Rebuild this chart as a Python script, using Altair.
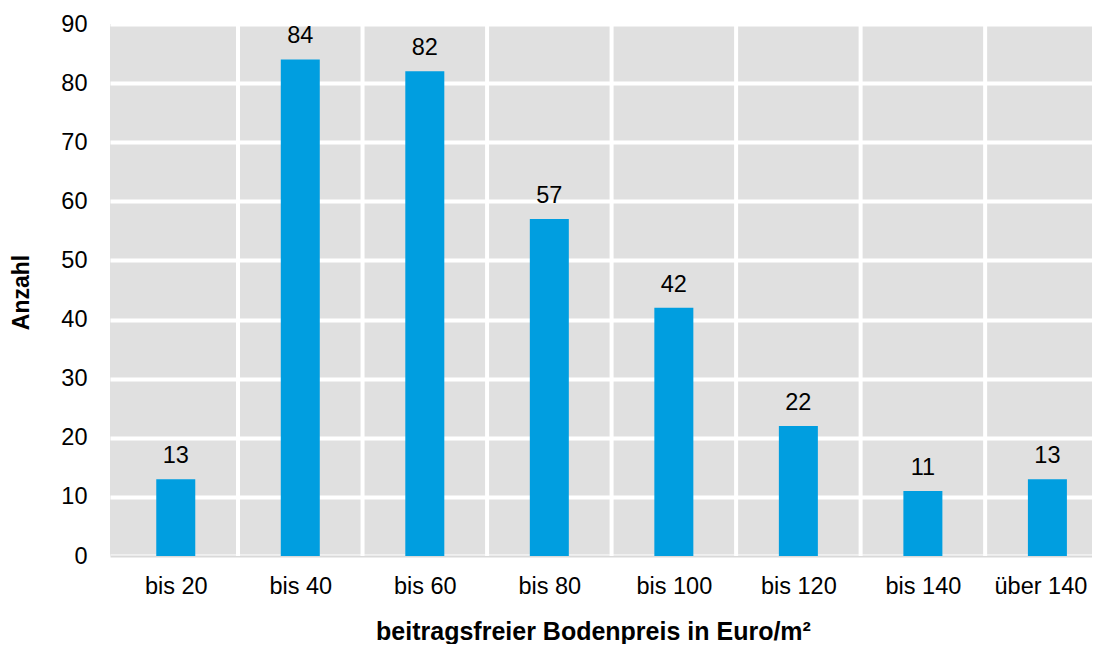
import altair as alt
import pandas as pd

categories = ["bis 20", "bis 40", "bis 60", "bis 80", "bis 100", "bis 120", "bis 140", "über 140"]
counts = [13, 84, 82, 57, 42, 22, 11, 13]
y_ticks = [0, 10, 20, 30, 40, 50, 60, 70, 80, 90]

df = pd.DataFrame({"idx": list(range(len(categories))), "cat": categories, "n": counts})
bounds = pd.DataFrame({"b": [i + 0.5 for i in range(len(categories) - 1)]})

FONT = "Liberation Sans"
label_arr = "[" + ",".join('"%s"' % c for c in categories) + "]"
last = len(categories) - 1

xscale = alt.Scale(domain=[-0.488, 7.318], nice=False, zero=False)
yscale = alt.Scale(domain=[0, 90], nice=False)

x_axis = alt.Axis(
    values=list(range(len(categories))),
    labelExpr=label_arr + "[datum.value]",
    grid=False, ticks=False, tickSize=0,
    domain=True, domainColor="#D9D9D9", domainWidth=2,
    labelFont=FONT, labelFontSize=23.5, labelColor="#000000",
    labelBaseline="alphabetic", labelPadding=37,
    labelOffset={"condition": {"test": "datum.value == %d" % last, "value": -7}, "value": 0},
    labelFlush=False, labelOverlap=False, labelBound=False,
    title="beitragsfreier Bodenpreis in Euro/m²",
    titleFont=FONT, titleFontSize=25, titleFontWeight="bold", titleColor="#000000",
    titleBaseline="alphabetic", titleX=483, titleY=83, titleAlign="center",
)

y_axis = alt.Axis(
    values=y_ticks, grid=True, gridColor="#FFFFFF", gridWidth=4, gridOpacity=1,
    ticks=False, domain=False,
    labelFont=FONT, labelFontSize=23.5, labelColor="#000000", labelPadding=23,
    title="Anzahl", titleFont=FONT, titleFontSize=23, titleFontWeight="bold", titleColor="#000000",
    titleAngle=-90, titleBaseline="alphabetic", titleX=-82, titleY=268, titleAlign="center",
)

vrules = alt.Chart(bounds).mark_rule(color="#FFFFFF", strokeWidth=4).encode(
    x=alt.X("b:Q", scale=xscale, axis=x_axis)
)

bars = alt.Chart(df).mark_bar(color="#009EE0", size=39).encode(
    x=alt.X("idx:Q", scale=xscale, axis=x_axis),
    y=alt.Y("n:Q", scale=yscale, axis=y_axis),
)

text = alt.Chart(df).mark_text(
    font=FONT, fontSize=23.5, color="#000000", baseline="alphabetic", dy=-16
).encode(
    x=alt.X("idx:Q", scale=xscale),
    y=alt.Y("n:Q", scale=yscale),
    text="n:Q",
)

chart = alt.layer(vrules, bars, text).properties(
    width=982, height=532,
    autosize=alt.AutoSizeParams(type="none"),
    padding={"left": 102, "top": 16, "right": 0, "bottom": 88},
).configure_view(fill="#E0E0E0", stroke=None)

chart.save("out.html", embed_options={"renderer": "svg", "actions": False})
